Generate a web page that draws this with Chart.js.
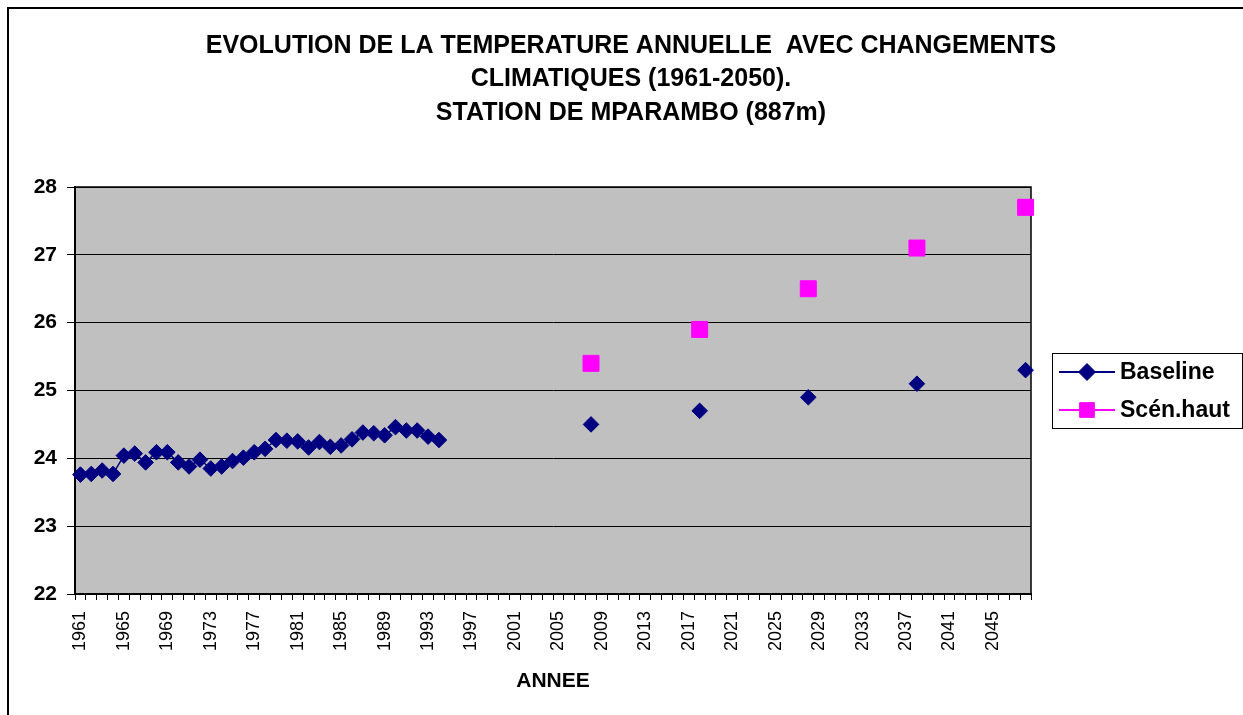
<!DOCTYPE html>
<html>
<head>
<meta charset="utf-8">
<script src="https://cdn.jsdelivr.net/npm/chart.js@4.4.1/dist/chart.umd.min.js"></script>
<style>
html,body{margin:0;padding:0;background:#fff;overflow:hidden;}
#frame{position:absolute;left:7px;top:7px;width:1400px;height:800px;border-left:2px solid #000;border-top:2px solid #000;pointer-events:none;}
canvas{position:absolute;left:0;top:0;}
</style>
</head>
<body>
<canvas id="myChart" width="1243" height="715"></canvas>
<div id="frame"></div>
<script>
// categories (one per year)
var years = [1961,1962,1963,1964,1965,1966,1967,1968,1969,1970,1971,1972,1973,1974,1975,1976,1977,1978,1979,1980,
  1981,1982,1983,1984,1985,1986,1987,1988,1989,1990,1991,1992,1993,1994,1995,1996,1997,1998,1999,2000,
  2001,2002,2003,2004,2005,2006,2007,2008,2009,2010,2011,2012,2013,2014,2015,2016,2017,2018,2019,2020,
  2021,2022,2023,2024,2025,2026,2027,2028,2029,2030,2031,2032,2033,2034,2035,2036,2037,2038,2039,2040,
  2041,2042,2043,2044,2045,2046,2047,2048];

// observed annual temperature
var histYears = [1961,1962,1963,1964,1965,1966,1967,1968,1969,1970,1971,1972,1973,1974,1975,1976,1977,
  1978,1979,1980,1981,1982,1983,1984,1985,1986,1987,1988,1989,1990,1991,1992,1993,1994];
var histTemps = [23.76,23.77,23.82,23.77,24.04,24.07,23.94,24.09,24.09,23.94,23.88,23.98,23.85,23.88,23.96,24.01,24.09,
  24.14,24.27,24.26,24.25,24.16,24.24,24.17,24.19,24.28,24.38,24.37,24.34,24.46,24.41,24.41,24.32,24.27];

// projections
var projYears = [2008, 2018, 2028, 2038, 2048];
var projBase  = [24.5, 24.7, 24.9, 25.1, 25.3];
var projHigh  = [25.4, 25.9, 26.5, 27.1, 27.7];

var seriesNames = ["Baseline", "Scén.haut"];
var seriesColors = ["#000080", "#FF00FF"];

function onYears(yrs, vals) {
  return years.map(function (y) {
    var i = yrs.indexOf(y);
    return i < 0 ? null : vals[i];
  });
}

var baseline = onYears(histYears.concat(projYears), histTemps.concat(projBase));
var haut = onYears(projYears, projHigh);

Chart.defaults.font.family = "'Liberation Sans', Arial, sans-serif";
Chart.defaults.color = "#000";

var plotBg = {
  id: "plotBg",
  beforeDraw: function (chart) {
    var a = chart.chartArea, ctx = chart.ctx;
    ctx.save();
    ctx.fillStyle = "#C0C0C0";
    ctx.fillRect(a.left, a.top, a.right - a.left, a.bottom - a.top);
    ctx.restore();
  },
  beforeDatasetsDraw: function (chart) {
    var a = chart.chartArea, ctx = chart.ctx;
    ctx.save();
    ctx.strokeStyle = "#000";
    ctx.lineWidth = 1.5;
    ctx.beginPath();
    ctx.moveTo(a.left, a.top);
    ctx.lineTo(a.right, a.top);
    ctx.lineTo(a.right, a.bottom);
    ctx.stroke();
    ctx.restore();
  }
};

var boxLegend = {
  id: "boxLegend",
  afterDraw: function (chart) {
    var ctx = chart.ctx;
    var x0 = chart.chartArea.right + 21, y0 = 353, w = 190, h = 75;
    ctx.save();
    ctx.fillStyle = "#fff";
    ctx.fillRect(x0, y0, w, h);
    ctx.strokeStyle = "#000";
    ctx.lineWidth = 1;
    ctx.strokeRect(x0 + 0.5, y0 + 0.5, w, h);
    chart.data.datasets.forEach(function (ds, i) {
      var y = y0 + 19 + i * 38;
      ctx.strokeStyle = ds.borderColor;
      ctx.lineWidth = 2;
      ctx.beginPath();
      ctx.moveTo(x0 + 7, y);
      ctx.lineTo(x0 + 63, y);
      ctx.stroke();
      ctx.fillStyle = ds.borderColor;
      ctx.lineWidth = 1;
      Chart.helpers.drawPoint(ctx, { pointStyle: ds.pointStyle, radius: ds.legendRadius, rotation: 0, borderWidth: 1 }, x0 + 35, y);
      ctx.fillStyle = "#000";
      ctx.font = "bold 23px 'Liberation Sans', Arial, sans-serif";
      ctx.textAlign = "left";
      ctx.textBaseline = "middle";
      ctx.fillText(ds.label, x0 + 68, y + 1);
    });
    ctx.restore();
  }
};

new Chart("myChart", {
  type: "line",
  data: {
    labels: years,
    datasets: [{
      label: seriesNames[0],
      data: baseline,
      borderColor: seriesColors[0],
      backgroundColor: seriesColors[0],
      borderWidth: 1.5,
      pointStyle: "rectRot",
      pointRadius: 7.8,
      pointBorderWidth: 1,
      legendRadius: 8.5,
      spanGaps: false,
      yAxisID: "y"
    }, {
      label: seriesNames[1],
      data: haut,
      borderColor: seriesColors[1],
      backgroundColor: seriesColors[1],
      borderWidth: 1.5,
      pointStyle: "rect",
      pointRadius: 11.3,
      pointBorderWidth: 1,
      legendRadius: 10.4,
      spanGaps: false,
      yAxisID: "y"
    }]
  },
  options: {
    responsive: false,
    animation: false,
    layout: { padding: { left: 19, right: 0, top: 0, bottom: 0 } },
    plugins: {
      legend: { display: false },
      tooltip: { enabled: false },
      title: {
        display: true,
        text: ["EVOLUTION DE LA TEMPERATURE ANNUELLE  AVEC CHANGEMENTS", "CLIMATIQUES (1961-2050).", "STATION DE MPARAMBO (887m)"],
        font: { size: 25, weight: "bold", lineHeight: 1.34 },
        padding: { top: 29.2, bottom: 57.3 }
      }
    },
    scales: {
      x: {
        offset: true,
        grid: { display: true, drawOnChartArea: false, color: "#000", tickLength: 6, offset: true },
        border: { display: true, color: "#000", width: 2 },
        ticks: {
          autoSkip: false,
          maxRotation: 90,
          minRotation: 90,
          padding: 11,
          font: { size: 18 },
          callback: function (v, i) { return i % 4 === 0 ? years[i] : ""; }
        },
        title: { display: true, text: "ANNEE", font: { size: 21, weight: "bold" }, padding: { top: 0, bottom: 21 } },
        afterFit: function (s) { s.height = 121; }
      },
      y: {
        position: "left",
        min: 22,
        max: 28,
        grid: { color: "#000", lineWidth: 1, tickLength: 8 },
        border: { display: true, color: "#000", width: 2 },
        ticks: { stepSize: 1, padding: 10, font: { size: 21, weight: "bold" } },
        afterFit: function (s) { s.width = 56; }
      },
      pad: {
        type: "linear",
        axis: "y",
        position: "right",
        display: true,
        grid: { display: false, drawTicks: false },
        border: { display: false },
        ticks: { display: false },
        afterFit: function (s) { s.width = 212; }
      }
    }
  },
  plugins: [plotBg, boxLegend]
});
</script>
</body>
</html>
